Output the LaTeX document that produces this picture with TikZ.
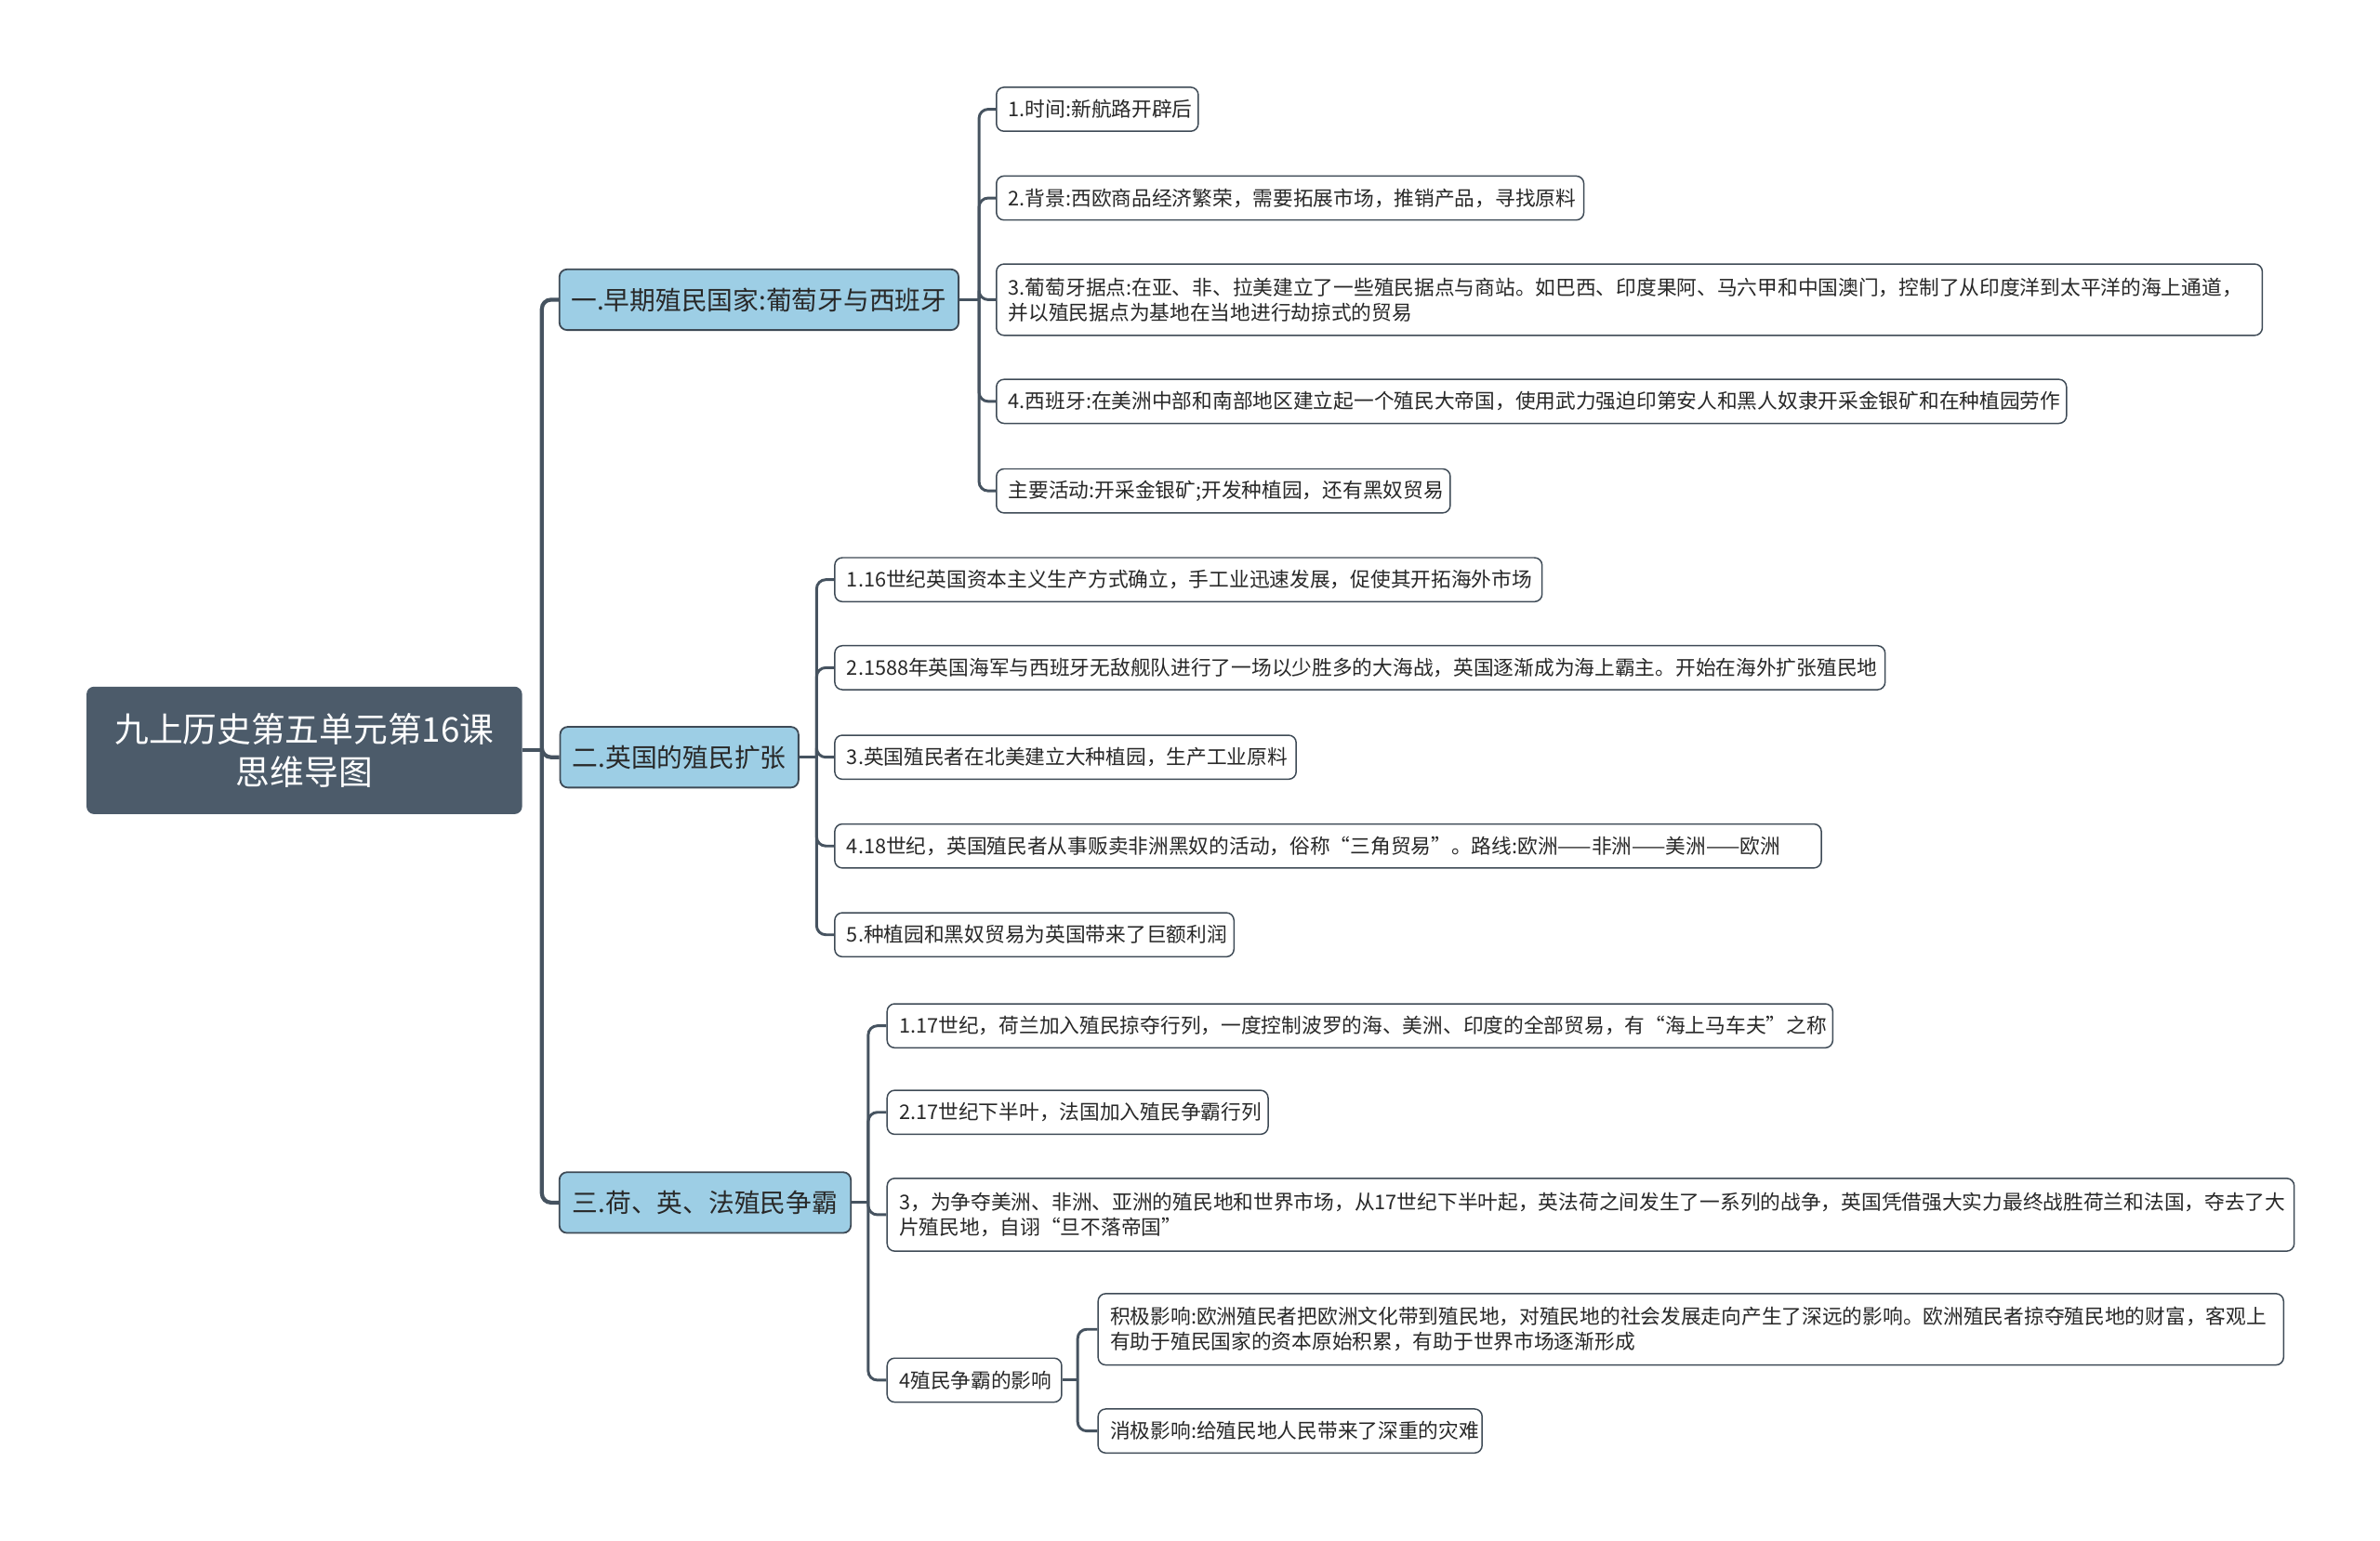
\documentclass[tikz,border=0pt]{standalone}
\usepackage{fontspec}
\setmainfont{Noto Sans CJK SC}
\begin{document}
\begin{tikzpicture}[x=1pt,y=-1pt,
  link/.style={draw=lineColor,line width=1.8pt,rounded corners=6pt},
  trunk/.style={link,line width=2.6pt},
  rootbox/.style={fill=rootColor,rounded corners=5pt,text=white,align=center,inner sep=0pt,
    font=\fontsize{22.5}{28.5}\selectfont,minimum width=287pt,minimum height=84pt},
  topic/.style={draw=borderColor,fill=topicColor,line width=1.1pt,rounded corners=5pt,text=textColor,
    inner sep=0pt,anchor=west,minimum height=40pt,font=\fontsize{17}{20}\selectfont},
  leaf/.style={draw=borderColor,fill=white,line width=0.9pt,rounded corners=5pt,text=textColor,
    align=left,inner xsep=8pt,inner ysep=0pt,anchor=west,minimum height=29pt,
    font=\fontsize{13.3}{16.5}\selectfont}]
\definecolor{rootColor}{RGB}{76,91,106}
\definecolor{topicColor}{RGB}{157,206,229}
\definecolor{borderColor}{RGB}{62,74,86}
\definecolor{lineColor}{RGB}{70,83,96}
\definecolor{textColor}{RGB}{40,40,40}
\path[use as bounding box,fill=white] (0,0) rectangle (1568,1015);

% root and main topics
\node[rootbox] (root) at (200.5,494.5) {九上历史第五单元第16课\\思维导图};

\node[topic,minimum width=263pt] (early) at (368,197.5) {一.早期殖民国家:葡萄牙与西班牙};
\node[topic,minimum width=157pt] (britain) at (368.5,499) {二.英国的殖民扩张};
\node[topic,minimum width=192pt] (rivalry) at (368,792.5) {三.荷、英、法殖民争霸};

% early colonial powers
\node[leaf,text width=117pt] (early1) at (656,72) {1.时间:新航路开辟后};
\node[leaf,text width=371pt] (early2) at (656,130.5) {2.背景:西欧商品经济繁荣，需要拓展市场，推销产品，寻找原料};
\node[leaf,text width=818pt,minimum height=47pt] (early3) at (656,197.5) {3.葡萄牙据点:在亚、非、拉美建立了一些殖民据点与商站。如巴西、印度果阿、马六甲和中国澳门，控制了从印度洋到太平洋的海上通道，\\并以殖民据点为基地在当地进行劫掠式的贸易};
\node[leaf,text width=689pt] (early4) at (656,264.5) {4.西班牙:在美洲中部和南部地区建立起一个殖民大帝国，使用武力强迫印第安人和黑人奴隶开采金银矿和在种植园劳作};
\node[leaf,text width=283pt] (early5) at (656,323.5) {主要活动:开采金银矿;开发种植园，还有黑奴贸易};

% british expansion
\node[leaf,text width=450pt] (brit1) at (549.5,382) {1.16世纪英国资本主义生产方式确立，手工业迅速发展，促使其开拓海外市场};
\node[leaf,text width=676pt] (brit2) at (549.5,440) {2.1588年英国海军与西班牙无敌舰队进行了一场以少胜多的大海战，英国逐渐成为海上霸主。开始在海外扩张殖民地};
\node[leaf,text width=288pt] (brit3) at (549.5,499) {3.英国殖民者在北美建立大种植园，生产工业原料};
\node[leaf,text width=634pt] (brit4) at (549.5,557.5) {4.18世纪，英国殖民者从事贩卖非洲黑奴的活动，俗称“三角贸易”。路线:欧洲——非洲——美洲——欧洲};
\node[leaf,text width=247pt] (brit5) at (549.5,616) {5.种植园和黑奴贸易为英国带来了巨额利润};

% dutch, british and french rivalry
\node[leaf,text width=607pt] (riv1) at (584,676) {1.17世纪，荷兰加入殖民掠夺行列，一度控制波罗的海、美洲、印度的全部贸易，有“海上马车夫”之称};
\node[leaf,text width=235pt] (riv2) at (584,733) {2.17世纪下半叶，法国加入殖民争霸行列};
\node[leaf,text width=911pt,minimum height=48pt] (riv3) at (584,800.5) {3，为争夺美洲、非洲、亚洲的殖民地和世界市场，从17世纪下半叶起，英法荷之间发生了一系列的战争，英国凭借强大实力最终战胜荷兰和法国，夺去了大\\片殖民地，自诩“旦不落帝国”};
\node[leaf,text width=99pt] (riv4) at (584,909.5) {4殖民争霸的影响};

\node[leaf,text width=765pt,minimum height=47pt] (effect1) at (723,876) {积极影响:欧洲殖民者把欧洲文化带到殖民地，对殖民地的社会发展走向产生了深远的影响。欧洲殖民者掠夺殖民地的财富，客观上\\有助于殖民国家的资本原始积累，有助于世界市场逐渐形成};
\node[leaf,text width=237pt] (effect2) at (723,943) {消极影响:给殖民地人民带来了深重的灾难};

% junctions
\coordinate (jroot) at (357,494.5);
\coordinate (jearly) at (645,197.5);
\coordinate (jbrit) at (538,499);
\coordinate (jriv) at (572,792.5);
\coordinate (jeff) at (710,909.5);

% connectors
\draw[trunk] (root.east) -- (jroot);
\foreach \t in {early,britain,rivalry}
  \draw[trunk] (jroot) |- (\t.west);

\draw[link] (early.east) -- (jearly);
\foreach \i in {1,...,5}
  \draw[link] (jearly) |- (early\i.west);

\draw[link] (britain.east) -- (jbrit);
\foreach \i in {1,...,5}
  \draw[link] (jbrit) |- (brit\i.west);

\draw[link] (rivalry.east) -- (jriv);
\foreach \i in {1,...,4}
  \draw[link] (jriv) |- (riv\i.west);

\draw[link] (riv4.east) -- (jeff);
\foreach \i in {1,2}
  \draw[link] (jeff) |- (effect\i.west);
\end{tikzpicture}
\end{document}
